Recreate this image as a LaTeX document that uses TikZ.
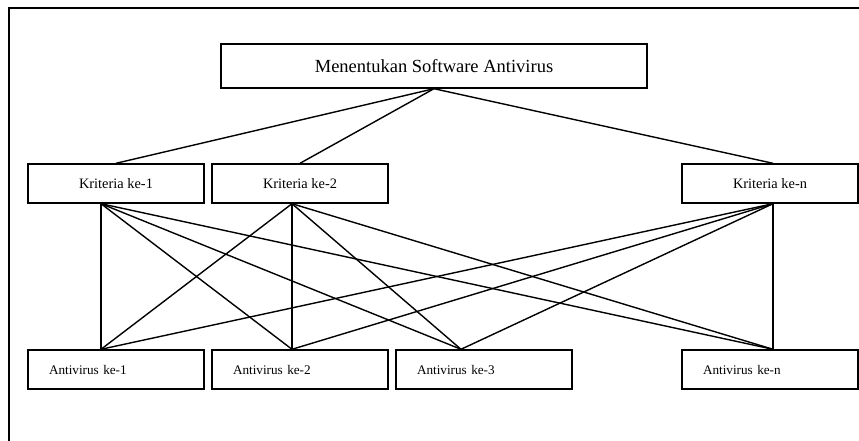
\documentclass[tikz,border=0pt]{standalone}
\usepackage{fontspec}
\setmainfont{Liberation Serif}
\begin{document}
\begin{tikzpicture}[x=1pt,y=-1pt,
  line width=1.4pt,
  topbox/.style={draw, minimum width=426pt, minimum height=44pt, inner sep=0pt, font=\fontsize{18.5}{22}\selectfont},
  kbox/.style={draw, minimum width=176pt, minimum height=39pt, inner sep=0pt, font=\fontsize{14.4}{17}\selectfont},
  abox/.style={draw, minimum width=176pt, minimum height=39pt, inner sep=0pt, text width=134pt, align=left, font=\fontsize{13.2}{16}\selectfont},
  link/.style={line width=1.4pt}]
\useasboundingbox (0,0) rectangle (859,441);
\draw (9,441) -- (9,8) -- (859,8);
\node[topbox] (T) at (434,66) {Menentukan Software Antivirus};
\node[kbox] (K1) at (116,183.5) {Kriteria ke-1};
\node[kbox] (K2) at (300,183.5) {Kriteria ke-2};
\node[kbox] (Kn) at (770,183.5) {Kriteria ke-n};
\node[abox] (A1) at (116,369.5) {Antivirus ke-1};
\node[abox] (A2) at (300,369.5) {Antivirus ke-2};
\node[abox] (A3) at (484,369.5) {Antivirus ke-3};
\node[abox] (An) at (770,369.5) {Antivirus ke-n};
% top to criteria
\draw[link] (T.south) -- (K1.north);
\draw[link] (T.south) -- (K2.north);
\draw[link] (T.south) -- ([xshift=3pt]Kn.north);
% criteria to alternatives
\foreach \k/\kx in {K1/-15,K2/-8,Kn/3}{
  \foreach \a/\ax in {A1/-15,A2/-8,A3/-23,An/3}{
    \draw[link] ([xshift=\kx pt]\k.south) -- ([xshift=\ax pt]\a.north);
  }
}
\end{tikzpicture}
\end{document}
